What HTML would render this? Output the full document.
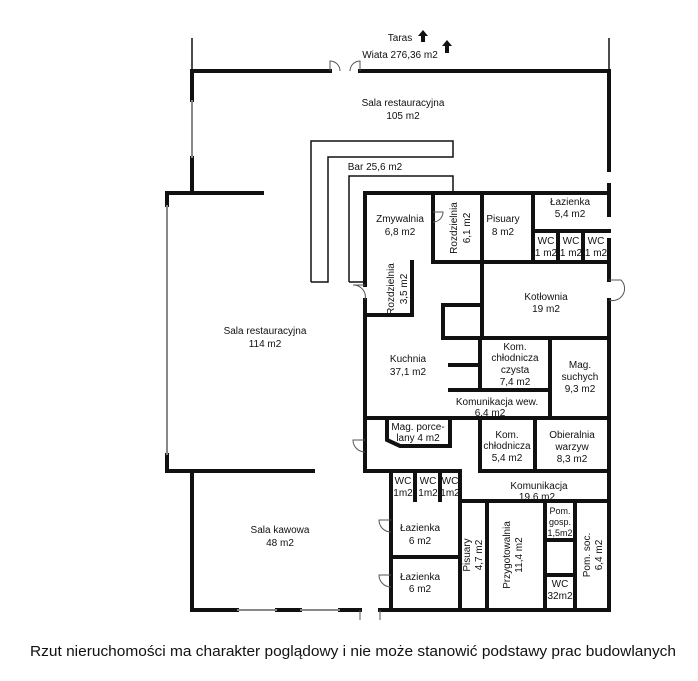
<!DOCTYPE html>
<html><head><meta charset="utf-8"><style>
html,body{margin:0;padding:0;background:#fff;}
svg{display:block;}
text{font-family:"Liberation Sans",sans-serif;font-size:10px;fill:#111;text-anchor:middle;}
</style></head><body>
<svg width="698" height="681" viewBox="0 0 698 681" xmlns="http://www.w3.org/2000/svg">
<g stroke="#111" stroke-width="1.5" fill="none">
<line x1="192" y1="38" x2="192" y2="71"/>
<line x1="609" y1="38" x2="609" y2="71"/>
<polyline points="311,282 311,141 453,141 453,157 328,157 328,282 311,282"/>
<polyline points="349,282 349,176 453,176 453,193"/>
<line x1="349" y1="282" x2="365" y2="282"/>
</g>
<g stroke="#111" stroke-width="4" fill="none" stroke-linecap="square">
<line x1="192" y1="71" x2="330" y2="71"/>
<line x1="360" y1="71" x2="609" y2="71"/>
<line x1="192" y1="71" x2="192" y2="100"/>
<line x1="192" y1="158" x2="192" y2="193"/>
<line x1="167" y1="193" x2="262" y2="193"/>
<line x1="167" y1="193" x2="167" y2="205"/>
<line x1="167" y1="455" x2="167" y2="471"/>
<line x1="167" y1="471" x2="313" y2="471"/>
<line x1="192" y1="471" x2="192" y2="610"/>
<line x1="192" y1="610" x2="237" y2="610"/>
<line x1="277" y1="610" x2="300" y2="610"/>
<line x1="340" y1="610" x2="360" y2="610"/>
<line x1="380" y1="610" x2="609" y2="610"/>
<line x1="609" y1="71" x2="609" y2="170"/>
<line x1="609" y1="185" x2="609" y2="215"/>
<line x1="609" y1="240" x2="609" y2="280"/>
<line x1="609" y1="300" x2="609" y2="610"/>
<line x1="365" y1="193" x2="609" y2="193"/>
<line x1="365" y1="193" x2="365" y2="285"/>
<line x1="365" y1="300" x2="365" y2="471"/>
<line x1="433" y1="193" x2="433" y2="262"/>
<line x1="433" y1="262" x2="482" y2="262"/>
<line x1="482" y1="193" x2="482" y2="338"/>
<line x1="482" y1="262" x2="609" y2="262"/>
<line x1="533" y1="193" x2="533" y2="262"/>
<line x1="533" y1="231" x2="609" y2="231"/>
<line x1="558" y1="231" x2="558" y2="262"/>
<line x1="583" y1="231" x2="583" y2="262"/>
<line x1="412" y1="262" x2="412" y2="315"/>
<line x1="365" y1="315" x2="412" y2="315"/>
<polyline points="482,305 443,305 443,338 609,338"/>
<line x1="480" y1="338" x2="480" y2="390"/>
<line x1="550" y1="338" x2="550" y2="418"/>
<line x1="450" y1="390" x2="550" y2="390"/>
<line x1="450" y1="365" x2="480" y2="365"/>
<line x1="365" y1="418" x2="609" y2="418"/>
<polyline points="387,418 387,440 400,446 450,446 450,418"/>
<line x1="480" y1="418" x2="480" y2="471"/>
<line x1="535" y1="418" x2="535" y2="471"/>
<line x1="480" y1="471" x2="609" y2="471"/>
<line x1="365" y1="471" x2="460" y2="471"/>
<line x1="460" y1="471" x2="460" y2="610"/>
<line x1="391" y1="471" x2="391" y2="610"/>
<line x1="415" y1="471" x2="415" y2="500"/>
<line x1="440" y1="471" x2="440" y2="500"/>
<line x1="460" y1="501" x2="609" y2="501"/>
<line x1="391" y1="557" x2="460" y2="557"/>
<line x1="487" y1="501" x2="487" y2="610"/>
<line x1="545" y1="501" x2="545" y2="610"/>
<line x1="575" y1="501" x2="575" y2="610"/>
<line x1="545" y1="540" x2="575" y2="540"/>
<line x1="545" y1="575" x2="575" y2="575"/>
</g>
<g stroke="#888" stroke-width="2">
<line x1="192" y1="100" x2="192" y2="158"/>
<line x1="167" y1="205" x2="167" y2="455"/>
<line x1="237" y1="610" x2="277" y2="610"/>
<line x1="300" y1="610" x2="340" y2="610"/>
</g>
<g stroke="#555" stroke-width="1" fill="none">
<path d="M330 71 v-10 a10 10 0 0 1 10 10 M360 71 v-10 a10 10 0 0 0 -10 10"/>
<path d="M365 285 h-12 a12 12 0 0 1 12 15"/>
<path d="M433 212 h10 a10 10 0 0 1 -10 10"/>
<path d="M609 280 h12 a12 12 0 0 1 -12 20"/>
<path d="M365 440 h-12 a12 12 0 0 0 12 12"/>
<path d="M391 520 h-12 a12 12 0 0 0 12 12"/>
<path d="M391 575 h-12 a12 12 0 0 0 12 12"/>
<path d="M360 610 v10 M380 610 v10"/>
</g>
<g fill="#111">
<polygon points="423,30 418,36 421,36 421,42 425,42 425,36 428,36"/>
<polygon points="447,40 442,46 445,46 445,53 449,53 449,46 452,46"/>
</g>
<text x="400" y="41">Taras</text>
<text x="400" y="58">Wiata 276,36 m2</text>
<text x="403" y="106">Sala restauracyjna</text>
<text x="403" y="119">105 m2</text>
<text x="375" y="170">Bar 25,6 m2</text>
<text x="265" y="334">Sala restauracyjna</text>
<text x="265" y="347">114 m2</text>
<text x="400" y="222">Zmywalnia</text>
<text x="400" y="235">6,8 m2</text>
<text x="503" y="222">Pisuary</text>
<text x="503" y="235">8 m2</text>
<text x="570" y="205">Łazienka</text>
<text x="570" y="217">5,4 m2</text>
<text x="546" y="244">WC</text><text x="546" y="256">1 m2</text>
<text x="571" y="244">WC</text><text x="571" y="256">1 m2</text>
<text x="596" y="244">WC</text><text x="596" y="256">1 m2</text>
<text transform="translate(457,228) rotate(-90)">Rozdzielnia</text>
<text transform="translate(470,228) rotate(-90)">6,1 m2</text>
<text transform="translate(394,289) rotate(-90)">Rozdzielnia</text>
<text transform="translate(407,289) rotate(-90)">3,5 m2</text>
<text x="546" y="300">Kotłownia</text>
<text x="546" y="312">19 m2</text>
<text x="408" y="362">Kuchnia</text>
<text x="408" y="375">37,1 m2</text>
<text x="515" y="350">Kom.</text>
<text x="515" y="361">chłodnicza</text>
<text x="515" y="373">czysta</text>
<text x="515" y="385">7,4 m2</text>
<text x="580" y="368">Mag.</text>
<text x="580" y="380">suchych</text>
<text x="580" y="392">9,3 m2</text>
<text x="497" y="405">Komunikacja wew.</text>
<text x="490" y="416">6,4 m2</text>
<text x="418" y="430">Mag. porce-</text>
<text x="418" y="441">lany 4 m2</text>
<text x="507" y="438">Kom.</text>
<text x="507" y="449">chłodnicza</text>
<text x="507" y="461">5,4 m2</text>
<text x="572" y="438">Obieralnia</text>
<text x="572" y="450">warzyw</text>
<text x="572" y="462">8,3 m2</text>
<text x="539" y="489">Komunikacja</text>
<text x="537" y="500">19,6 m2</text>
<text x="403" y="484">WC</text><text x="403" y="496">1m2</text>
<text x="428" y="484">WC</text><text x="428" y="496">1m2</text>
<text x="450" y="484">WC</text><text x="450" y="496">1m2</text>
<text x="420" y="531">Łazienka</text>
<text x="420" y="544">6 m2</text>
<text x="420" y="580">Łazienka</text>
<text x="420" y="592">6 m2</text>
<text x="280" y="533">Sala kawowa</text>
<text x="280" y="546">48 m2</text>
<text transform="translate(470,555) rotate(-90)">Pisuary</text>
<text transform="translate(482,555) rotate(-90)">4,7 m2</text>
<text transform="translate(510,555) rotate(-90)">Przygotowalnia</text>
<text transform="translate(522,555) rotate(-90)">11,4 m2</text>
<text x="560" y="514" style="font-size:9px">Pom.</text>
<text x="560" y="525" style="font-size:9px">gosp.</text>
<text x="560" y="536" style="font-size:9px">1,5m2</text>
<text x="560" y="587">WC</text>
<text x="560" y="599">32m2</text>
<text transform="translate(590,555) rotate(-90)">Pom. soc.</text>
<text transform="translate(602,555) rotate(-90)">6,4 m2</text>
<text x="353" y="656" style="font-size:15px" textLength="646" lengthAdjust="spacingAndGlyphs">Rzut nieruchomości ma charakter poglądowy i nie może stanowić podstawy prac budowlanych</text>
</svg>
</body></html>
